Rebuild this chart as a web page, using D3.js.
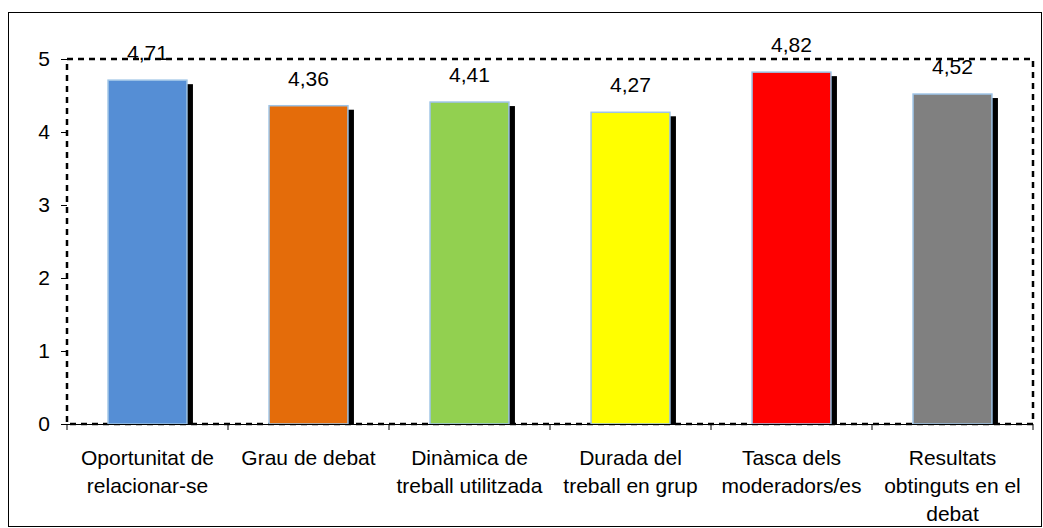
<!DOCTYPE html>
<head>
<meta charset="utf-8">
<title>Valoració del debat</title>
<script src="https://d3js.org/d3.v7.min.js"></script>
<style>
body { margin: 0; background: #fff; }
svg text { font-family: "Liberation Sans", Arial, sans-serif; }
</style>
</head>
<body>
<div id="chart"></div>
<script>
// data
var categories = [
  ["Oportunitat de", "relacionar-se"],
  ["Grau de debat"],
  ["Dinàmica de", "treball utilitzada"],
  ["Durada del", "treball en grup"],
  ["Tasca dels", "moderadors/es"],
  ["Resultats", "obtinguts en el", "debat"]
];
var values = [4.71, 4.36, 4.41, 4.27, 4.82, 4.52];
var valueLabels = ["4,71", "4,36", "4,41", "4,27", "4,82", "4,52"];
var colors = ["#558ED5", "#E46C0A", "#92D050", "#FFFF00", "#FF0000", "#808080"];
var yTicks = [0, 1, 2, 3, 4, 5];

// set the dimensions and margins of the graph
var W = 1043, H = 528;
var margin = {top: 59, right: 10, bottom: 104, left: 67};
var width = 966;
var height = H - margin.top - margin.bottom;

var svgRoot = d3.select("#chart")
  .append("svg")
    .attr("width", W)
    .attr("height", H);

// outer frame
svgRoot.append("rect")
  .attr("x", 8.5).attr("y", 12.5)
  .attr("width", 1033).attr("height", 514)
  .attr("fill", "none")
  .attr("stroke", "#000")
  .attr("stroke-width", 1);

var svg = svgRoot.append("g")
  .attr("transform", "translate(" + margin.left + "," + margin.top + ")");

var idx = d3.range(values.length);

var xScale = d3.scaleBand()
  .domain(idx)
  .range([0, width]);

var yScale = d3.scaleLinear()
  .domain([0, 5])
  .range([height, 0]);

var barW = xScale.bandwidth() * 0.49;

// dotted plot area border
svg.append("rect")
  .attr("x", 0).attr("y", 0)
  .attr("width", width).attr("height", height)
  .attr("fill", "none")
  .attr("stroke", "#000")
  .attr("stroke-width", 2.5)
  .attr("stroke-dasharray", "6,5");

// shadows
svg.selectAll(".shadow")
  .data(idx)
  .enter().append("rect")
    .attr("class", "shadow")
    .attr("x", function(i) { return xScale(i) + (xScale.bandwidth() - barW) / 2 + 6; })
    .attr("y", function(i) { return yScale(values[i]) + 4; })
    .attr("width", barW)
    .attr("height", function(i) { return height - yScale(values[i]) - 4; })
    .attr("fill", "#000");

// bars
svg.selectAll(".bar")
  .data(idx)
  .enter().append("rect")
    .attr("class", "bar")
    .attr("x", function(i) { return xScale(i) + (xScale.bandwidth() - barW) / 2; })
    .attr("y", function(i) { return yScale(values[i]); })
    .attr("width", barW)
    .attr("height", function(i) { return height - yScale(values[i]); })
    .attr("fill", function(i) { return colors[i]; })
    .attr("stroke", "#9DC3E6")
    .attr("stroke-width", 1.5);

// value labels
svg.selectAll(".vlabel")
  .data(idx)
  .enter().append("text")
    .attr("class", "vlabel")
    .attr("x", function(i) { return xScale(i) + xScale.bandwidth() / 2; })
    .attr("y", function(i) { return yScale(values[i]) - 20; })
    .attr("text-anchor", "middle")
    .style("font-size", "21px")
    .attr("fill", "#000")
    .text(function(i) { return valueLabels[i]; });

// Y axis
var yAxis = d3.axisLeft(yScale)
  .tickValues(yTicks)
  .tickSize(6)
  .tickPadding(11)
  .tickFormat(d3.format("d"));

var yG = svg.append("g").call(yAxis);
yG.select(".domain").remove();
yG.selectAll("line").attr("stroke", "#000");
yG.selectAll("text").style("font-size", "21px").attr("fill", "#000");

// X axis
var xAxis = d3.axisBottom(xScale).tickSize(0).tickFormat("");
var xG = svg.append("g")
  .attr("transform", "translate(0," + height + ")")
  .call(xAxis);
xG.select(".domain").attr("stroke", "#000").attr("d", "M0,0.5H" + width);

// category boundary ticks
svg.selectAll(".xtick")
  .data(d3.range(values.length + 1))
  .enter().append("line")
    .attr("class", "xtick")
    .attr("x1", function(i) { return i * xScale.step(); })
    .attr("x2", function(i) { return i * xScale.step(); })
    .attr("y1", height)
    .attr("y2", height + 6)
    .attr("stroke", "#000");

// category labels
var cat = svg.selectAll(".clabel")
  .data(idx)
  .enter().append("text")
    .attr("class", "clabel")
    .attr("text-anchor", "middle")
    .style("font-size", "21px")
    .attr("fill", "#000");

cat.each(function(i) {
  var t = d3.select(this);
  categories[i].forEach(function(line, k) {
    t.append("tspan")
      .attr("x", xScale(i) + xScale.bandwidth() / 2)
      .attr("y", height + 41 + k * 28)
      .text(line);
  });
});
</script>
</body>
